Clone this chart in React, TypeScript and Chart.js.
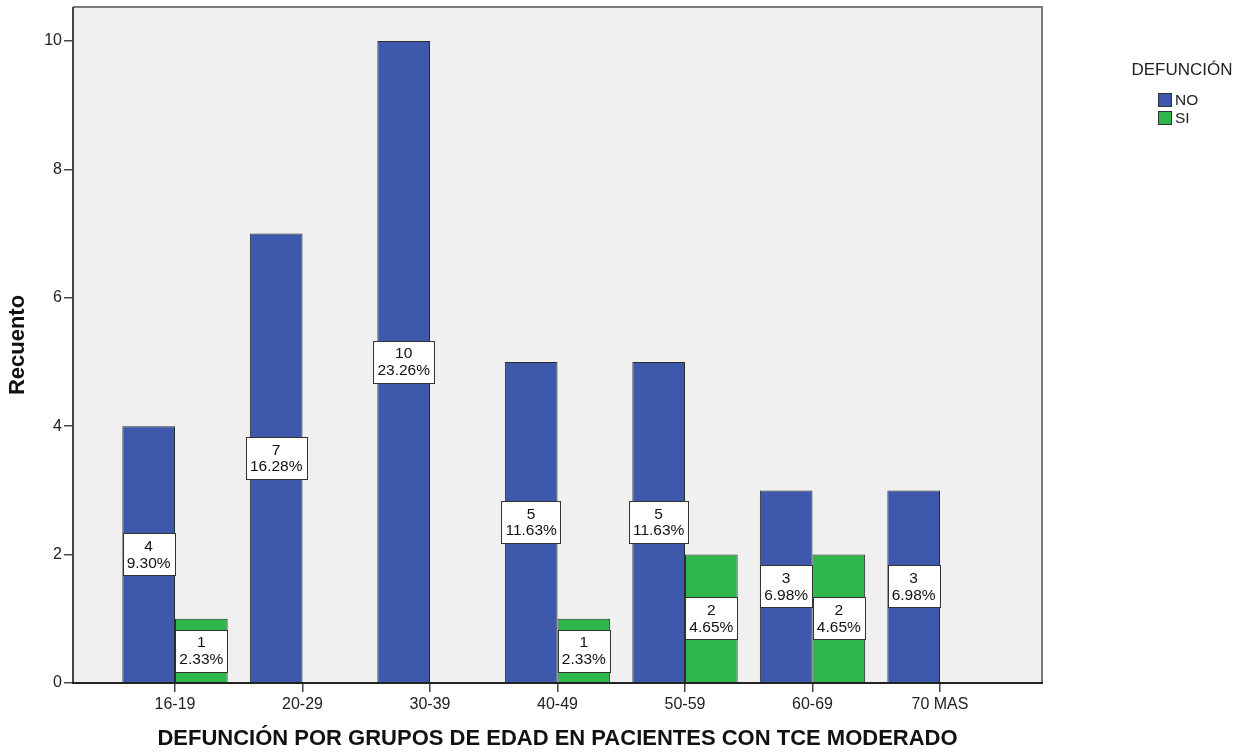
import React, { useEffect, useRef } from "react";
import { Chart, registerables } from "chart.js";

Chart.register(...registerables);

const categories = ["16-19", "20-29", "30-39", "40-49", "50-59", "60-69", "70 MAS"];
const seriesNames = ["NO", "SI"];
const noCounts = [4, 7, 10, 5, 5, 3, 3];
const siCounts: (number | null)[] = [1, null, null, 1, 2, 2, null];
const noPercents = ["9.30%", "16.28%", "23.26%", "11.63%", "11.63%", "6.98%", "6.98%"];
const siPercents = ["2.33%", "", "", "2.33%", "4.65%", "4.65%", ""];
const yTicks = [0, 2, 4, 6, 8, 10];
const legendTitle = "DEFUNCIÓN";
const xTitle = "DEFUNCIÓN POR GRUPOS DE EDAD EN PACIENTES CON TCE MODERADO";
const yTitle = "Recuento";

const FONT = "'Liberation Sans', Arial, sans-serif";
const BLUE = "#3e58ab";
const GREEN = "#2eb84b";

const percentLists = [noPercents, siPercents];
const countLists = [noCounts, siCounts];

const sketchPlugin = {
  id: "sketchPlugin",
  beforeDraw(chart: any) {
    const { ctx, chartArea } = chart;
    ctx.save();
    ctx.fillStyle = "#ffffff";
    ctx.fillRect(0, 0, chart.width, chart.height);
    ctx.fillStyle = "#f0f0f0";
    ctx.fillRect(chartArea.left, chartArea.top, chartArea.right - chartArea.left, chartArea.bottom - chartArea.top);
    ctx.restore();
  },
  afterDatasetsDraw(chart: any) {
    const { ctx } = chart;
    ctx.save();
    ctx.font = `15.5px ${FONT}`;
    ctx.textAlign = "center";
    ctx.textBaseline = "middle";
    for (let d = 0; d < 2; d++) {
      const meta = chart.getDatasetMeta(d);
      meta.data.forEach((el: any, i: number) => {
        const v = countLists[d][i];
        if (v === null || v === undefined) return;
        const l1 = String(v);
        const l2 = percentLists[d][i];
        const w = Math.max(ctx.measureText(l1).width, ctx.measureText(l2).width) + 8;
        const h = 42;
        const cx = el.x;
        const cy = (el.y + el.base) / 2;
        const x0 = Math.round(cx - w / 2) + 0.5;
        const y0 = Math.round(cy - h / 2) + 0.5;
        ctx.fillStyle = "#ffffff";
        ctx.fillRect(x0, y0, Math.round(w), h);
        ctx.strokeStyle = "#333333";
        ctx.lineWidth = 1;
        ctx.strokeRect(x0, y0, Math.round(w), h);
        ctx.fillStyle = "#111111";
        ctx.fillText(l1, cx, cy - 7.5);
        ctx.fillText(l2, cx, cy + 9);
      });
    }
    ctx.restore();
  },
  afterDraw(chart: any) {
    const { ctx, chartArea } = chart;
    const { left, top, right, bottom } = chartArea;
    ctx.save();
    ctx.lineWidth = 2;
    ctx.strokeStyle = "#7a7a7a";
    ctx.beginPath();
    ctx.moveTo(left, top);
    ctx.lineTo(right, top);
    ctx.lineTo(right, bottom);
    ctx.stroke();
    ctx.strokeStyle = "#444444";
    ctx.beginPath();
    ctx.moveTo(left, top);
    ctx.lineTo(left, bottom);
    ctx.stroke();
    ctx.strokeStyle = "#222222";
    ctx.beginPath();
    ctx.moveTo(left - 1, bottom);
    ctx.lineTo(right + 1, bottom);
    ctx.stroke();

    // legend
    ctx.fillStyle = "#222222";
    ctx.font = `17px ${FONT}`;
    ctx.textAlign = "center";
    ctx.textBaseline = "middle";
    ctx.fillText(legendTitle, 1182, 70);
    const colors = [BLUE, GREEN];
    ctx.font = `15.5px ${FONT}`;
    ctx.textAlign = "left";
    seriesNames.forEach((name, i) => {
      const y = 93 + i * 18;
      ctx.fillStyle = colors[i];
      ctx.fillRect(1158.5, y + 0.5, 13, 13);
      ctx.strokeStyle = "#333333";
      ctx.lineWidth = 1;
      ctx.strokeRect(1158.5, y + 0.5, 13, 13);
      ctx.fillStyle = "#222222";
      ctx.fillText(name, 1175, y + 7.5);
    });
    ctx.restore();
  },
};

export default function App() {
  const canvasRef = useRef<HTMLCanvasElement | null>(null);

  useEffect(() => {
    const canvas = canvasRef.current;
    if (!canvas) return;
    const chart = new Chart(canvas, {
      type: "bar",
      data: {
        datasets: [
          {
            label: seriesNames[0],
            data: noCounts.map((v, i) => ({ x: i + 1, y: v })) as any,
            backgroundColor: BLUE,
            borderColor: "#2a2a2a",
            borderWidth: 1,
          },
          {
            label: seriesNames[1],
            data: siCounts.map((v, i) => ({ x: i + 1, y: v })) as any,
            backgroundColor: GREEN,
            borderColor: "#2a2a2a",
            borderWidth: 1,
          },
        ],
      },
      options: {
        animation: false,
        responsive: false,
        maintainAspectRatio: false,
        layout: { padding: { left: 0, top: 7, right: 204, bottom: 0 } },
        plugins: {
          legend: { display: false },
          tooltip: { enabled: false },
        },
        datasets: { bar: { categoryPercentage: 0.826, barPercentage: 1 } } as any,
        scales: {
          x: {
            type: "linear",
            min: 0.2,
            max: 7.8,
            offset: false,
            afterBuildTicks: (s: any) => {
              s.ticks = categories.map((_, i) => ({ value: i + 1 }));
            },
            afterFit: (s: any) => {
              s.height = 70;
              s.paddingLeft = 0;
              s.paddingRight = 0;
            },
            ticks: {
              autoSkip: false,
              maxRotation: 0,
              padding: 3,
              color: "#222222",
              font: { family: FONT, size: 16 },
              callback: (v: any) => categories[Math.round(Number(v)) - 1] ?? "",
            },
            grid: {
              offset: false,
              drawOnChartArea: false,
              drawTicks: true,
              tickLength: 9,
              color: "#444444",
              lineWidth: 1.5,
            },
            border: { display: false },
            title: {
              display: true,
              text: xTitle,
              color: "#111111",
              font: { family: FONT, size: 22, weight: "bold" },
              padding: { top: 0, bottom: 1 },
            },
          } as any,
          y: {
            min: 0,
            max: 10.53,
            afterBuildTicks: (s: any) => {
              s.ticks = yTicks.map((v) => ({ value: v }));
            },
            afterFit: (s: any) => {
              s.width = 73;
              s.paddingTop = 0;
              s.paddingBottom = 0;
            },
            ticks: {
              padding: 2,
              color: "#222222",
              font: { family: FONT, size: 16 },
            },
            grid: {
              drawOnChartArea: false,
              drawTicks: true,
              tickLength: 9,
              color: "#444444",
              lineWidth: 1.5,
            },
            border: { display: false },
            title: {
              display: true,
              text: yTitle,
              color: "#111111",
              font: { family: FONT, size: 22, weight: "bold" },
              padding: { top: 5, bottom: 0 },
            },
          } as any,
        },
      },
      plugins: [sketchPlugin],
    });
    return () => chart.destroy();
  }, []);

  return (
    <div style={{ position: "absolute", left: 0, top: 0, width: 1246, height: 753, background: "#fff" }}>
      <canvas ref={canvasRef} width={1246} height={753} style={{ width: 1246, height: 753, display: "block" }} />
    </div>
  );
}
